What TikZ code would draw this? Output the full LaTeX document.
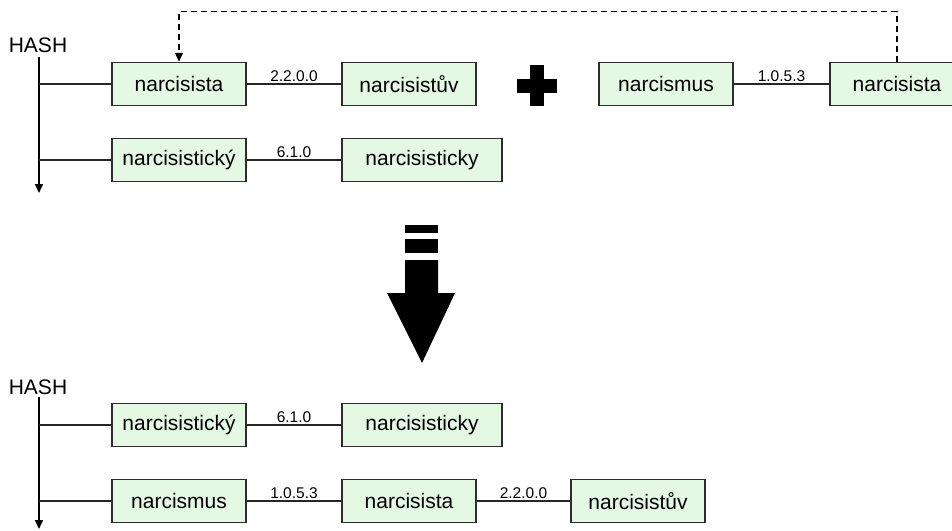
\documentclass[tikz,border=0pt]{standalone}
\usepackage{fontspec}
\setmainfont{Liberation Sans}
\usetikzlibrary{arrows.meta}
\definecolor{boxfill}{RGB}{228,248,228}
\definecolor{boxline}{RGB}{45,45,45}
\tikzset{
  word/.style={draw=boxline, fill=boxfill, line width=1.5pt, minimum width=134pt,
    minimum height=43pt, inner sep=0pt, font=\fontsize{21}{25}\selectfont},
  wide/.style={minimum width=160pt},
  link/.style={line width=1.5pt, draw=black!85},
  ver/.style={above=2pt, inner sep=0pt, font=\fontsize{15.5}{18}\selectfont},
  hashlbl/.style={inner sep=0pt, font=\fontsize{21}{25}\selectfont},
  axis/.style={line width=1.5pt, -{Triangle[width=8pt,length=9pt]}},
  ref/.style={line width=1.4pt, dashed, dash pattern=on 6pt off 4pt,
    -{Triangle[width=8pt,length=9pt]}},
  solid black/.style={fill=black, draw=none}
}
\begin{document}
\begin{tikzpicture}[x=1pt,y=-1pt]
\useasboundingbox (0,0) rectangle (952,530);

% ---- hash table before the merge ----
\node[hashlbl] (hashA) at (38,45) {HASH};
\coordinate (axA) at (39,57);
\coordinate (axAend) at (39,193);
\draw[axis] (axA) -- (axAend);

\node[word] (a1) at (179,84) {narcisista};
\node[word] (a2) at (409,84) {narcisistův};
\node[word] (b1) at (179,160) {narcisistický};
\node[word,wide] (b2) at (422,160) {narcisisticky};

\draw[link] (a1.west -| axA) -- (a1.west);
\draw[link] (b1.west -| axA) -- (b1.west);
\draw[link] (a1) -- node[ver] {2.2.0.0} (a2);
\draw[link] (b1) -- node[ver] {6.1.0} (b2);

% ---- plus sign ----
\fill[solid black] (530,65) rectangle (544,106);
\fill[solid black] (517,79) rectangle (557,93);

% ---- chain to be merged ----
\node[word] (c1) at (666,84) {narcismus};
\node[word] (c2) at (897,84) {narcisista};
\draw[link] (c1) -- node[ver] {1.0.5.3} (c2);
\draw[ref] (c2.north) -- ++(0,-50) -| (a1.north);

% ---- big downward arrow ----
\fill[solid black] (405,225) rectangle (438,233);
\fill[solid black] (405,239) rectangle (438,253);
\fill[solid black] (405,260) -- (438,260) -- (438,293) -- (455,293)
  -- (422,363) -- (387,293) -- (405,293) -- cycle;

% ---- hash table after the merge ----
\node[hashlbl] (hashB) at (38,387) {HASH};
\coordinate (axB) at (39,397);
\coordinate (axBend) at (39,529);
\draw[axis] (axB) -- (axBend);

\node[word] (d1) at (179,425) {narcisistický};
\node[word,wide] (d2) at (422,425) {narcisisticky};
\node[word] (e1) at (179,501) {narcismus};
\node[word] (e2) at (409,501) {narcisista};
\node[word] (e3) at (638,501) {narcisistův};

\draw[link] (d1.west -| axB) -- (d1.west);
\draw[link] (e1.west -| axB) -- (e1.west);
\draw[link] (d1) -- node[ver] {6.1.0} (d2);
\draw[link] (e1) -- node[ver] {1.0.5.3} (e2);
\draw[link] (e2) -- node[ver] {2.2.0.0} (e3);
\end{tikzpicture}
\end{document}
